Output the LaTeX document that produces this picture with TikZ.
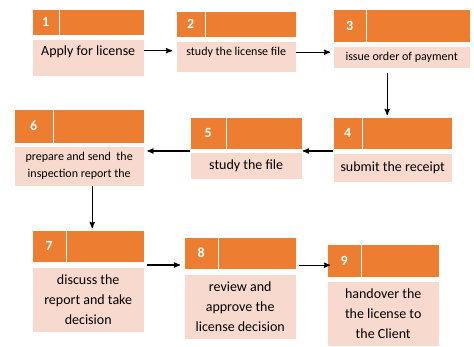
\documentclass[tikz,border=0pt]{standalone}
\usepackage{fontspec}
\setmainfont{Carlito}
\usepackage{tikz}
\usetikzlibrary{positioning,arrows}
\definecolor{hdrorange}{HTML}{ED7D31}
\definecolor{bodypink}{HTML}{F8D9CE}

\begin{document}
\begin{tikzpicture}[x=1pt,y=-1pt,font=\fontsize{14}{20}\selectfont]
    \tikzstyle{num}=[draw=white, fill=hdrorange, text=white, font=\bfseries\fontsize{14}{16}\selectfont, anchor=north west, inner sep=0pt]
    \tikzstyle{head}=[draw=white, fill=hdrorange, inner sep=0pt, right=0pt of #1]
    \tikzstyle{body}=[draw=white, fill=bodypink, anchor=north west, align=center, inner sep=2pt]
    \tikzstyle{small}=[font=\fontsize{12}{17}\selectfont]
    \tikzstyle{arrow}=[line width=1.2pt,-stealth']
    \useasboundingbox (0,0) rectangle (474,346);

    % top row
    \node[num, minimum width=27pt, minimum height=26pt] (n1) at (32,9) {1};
    \node[head=n1, minimum width=85pt, minimum height=26pt] (h1) {};
    \node[body, minimum width=112pt, minimum height=37pt, text height=8pt, text depth=13pt] (b1) at (32,39) {Apply for license};

    \node[num, minimum width=29pt, minimum height=26pt] (n2) at (176,11) {2};
    \node[head=n2, minimum width=91pt, minimum height=26pt] (h2) {};
    \node[body, small, minimum width=120pt, minimum height=31pt, text height=7pt, text depth=10pt] (b2) at (176,41) {study the license file};

    \node[num, minimum width=33pt, minimum height=33pt] (n3) at (333,9) {3};
    \node[head=n3, minimum width=104pt, minimum height=33pt] (h3) {};
    \node[body, small, minimum width=137pt, minimum height=22pt] (b3) at (333,46) {issue order of payment};

    % middle row
    \node[num, minimum width=29pt, minimum height=32pt] (n4) at (333,117) {4};
    \node[head=n4, minimum width=90pt, minimum height=32pt] (h4) {};
    \node[body, minimum width=119pt, minimum height=29pt] (b4) at (333,153) {submit the receipt};

    \node[num, minimum width=36pt, minimum height=32pt] (n5) at (190,117) {5};
    \node[head=n5, minimum width=76pt, minimum height=32pt] (h5) {};
    \node[body, minimum width=112pt, minimum height=27pt] (b5) at (190,152) {study the file};

    \node[num, minimum width=39pt, minimum height=34pt] (n6) at (14,109) {6};
    \node[head=n6, minimum width=91pt, minimum height=34pt] (h6) {};
    \node[body, small, minimum width=130pt, minimum height=40pt] (b6) at (14,146) {prepare and send \ the\\inspection report the};

    % bottom row
    \node[num, minimum width=34pt, minimum height=32pt] (n7) at (32,230) {7};
    \node[head=n7, minimum width=78pt, minimum height=32pt] (h7) {};
    \node[body, minimum width=112pt, minimum height=65pt] (b7) at (32,267) {discuss the\\report and take\\decision};

    \node[num, minimum width=34pt, minimum height=32pt] (n8) at (184,237) {8};
    \node[head=n8, minimum width=78pt, minimum height=32pt] (h8) {};
    \node[body, minimum width=112pt, minimum height=65pt] (b8) at (184,274) {review and\\approve the\\license decision};

    \node[num, minimum width=34pt, minimum height=33pt] (n9) at (327,244) {9};
    \node[head=n9, minimum width=78pt, minimum height=33pt] (h9) {};
    \node[body, minimum width=112pt, minimum height=65pt] (b9) at (327,281) {handover the\\the license to\\the Client};

    \draw[arrow,shorten >=4pt] ([yshift=7pt]b1.east) -- ([yshift=7pt]b1.east -| b2.west);
    \draw[arrow,shorten >=3pt] ([yshift=4.5pt]b2.east) -- ([yshift=4.5pt]b2.east -| b3.west);
    \draw[arrow,shorten <=5pt,shorten >=2pt] ([xshift=-14.5pt]b3.south) -- ([xshift=-14.5pt]b3.south |- h4.north);
    \draw[arrow] ([yshift=2pt]b4.north west) -- ([yshift=2pt]b4.north west -| h5.east);
    \draw[arrow,shorten >=3pt] ([yshift=1pt]b5.north west) -- ([yshift=1pt]b5.north west -| b6.east);
    \draw[arrow,shorten >=2pt] ([xshift=13pt]b6.south) -- ([xshift=13pt]b6.south |- h7.north);
    \draw[arrow,shorten <=3pt,shorten >=4pt] ([yshift=2pt]b7.north east) -- ([yshift=2pt]b7.north east -| n8.west);
    \draw[arrow,shorten <=2pt,shorten >=-3pt] ([yshift=-12pt]h8.east) -- ([yshift=-12pt]h8.east -| n9.west);
\end{tikzpicture}
\end{document}
